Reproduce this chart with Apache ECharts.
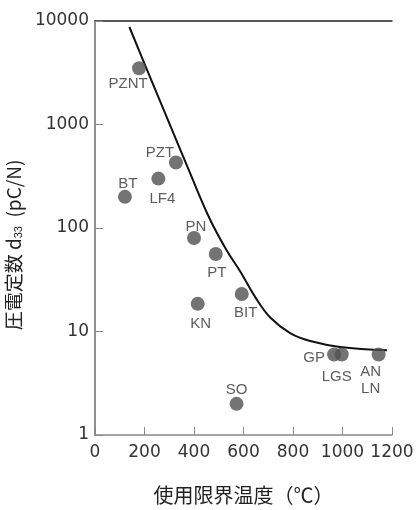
<!DOCTYPE html>
<html>
<head>
<meta charset="utf-8">
<script src="https://cdn.jsdelivr.net/npm/echarts@6/dist/echarts.min.js"></script>
<style>
  html, body { margin: 0; padding: 0; background: #fff; }
  #main { width: 417px; height: 510px; }
</style>
</head>
<body>
<div id="main"></div>
<script>
// materials: name, usable temperature limit (C), d33 (pC/N)
var materials = ['PZNT', 'PZT', 'LF4', 'BT', 'PN', 'PT', 'BIT', 'KN', 'SO', 'GP', 'LGS', 'AN\nLN'];
var tempLimit = [178, 327, 256, 121, 400, 488, 593, 415, 572, 966, 997, 1146];
var d33 = [3500, 430, 300, 200, 80, 56, 23, 18.5, 2, 6, 6, 6];

// trend curve
var curveTemp = [139, 220, 300, 380, 462, 530, 590, 650, 710, 790, 870, 990, 1180];
var curveD33 = [8750, 2960, 1030, 358, 125, 62, 37, 21, 13.5, 9.6, 8.1, 7.1, 6.6];

var xTicks = [0, 200, 400, 600, 800, 1000, 1200];
var yTicks = [1, 10, 100, 1000, 10000];

// where each label sits around its dot
var labelOffset = {
    'PZNT': [-11, 16], 'PZT': [-16, -10], 'LF4': [4, 20], 'BT': [3, -13],
    'PN': [2, -11], 'PT': [1, 19], 'BIT': [4, 19], 'KN': [3, 20],
    'SO': [0, -14], 'GP': [-20, 3], 'LGS': [-5, 22], 'AN\nLN': [-8, 26]
};

var myChart = echarts.init(document.getElementById('main'));

var numFont = 'Liberation Sans';
var points = materials.map(function(name, i) {
    return {
        name: name,
        value: [tempLimit[i], d33[i]],
        label: { offset: labelOffset[name] }
    };
});

var curve = curveTemp.map(function(t, i) { return [t, curveD33[i]]; });

var option = {
    animation: false,
    grid: { left: 95, right: 25, top: 21, bottom: 75, outerBoundsMode: 'none', containLabel: false },
    xAxis: [{
        type: 'value',
        min: 0, max: 1200, interval: 200,
        name: '使用限界温度（℃）',
        nameLocation: 'middle',
        nameGap: 50,
        nameTextStyle: { fontSize: 20, color: '#222', fontFamily: 'Noto Sans CJK JP' },
        axisLine: { show: true, lineStyle: { color: '#888', width: 1.5 } },
        axisTick: { show: true, inside: true, length: 8, lineStyle: { color: '#888' } },
        axisLabel: {
            fontSize: 17, color: '#333', fontFamily: 'DejaVu Sans', margin: 9,
            formatter: function(v) { return xTicks.indexOf(v) >= 0 ? String(v) : ''; }
        },
        splitLine: { show: false }
    }, {
        type: 'value',
        position: 'top',
        min: 0, max: 1200,
        axisLine: { show: true, lineStyle: { color: '#222', width: 1.5 } },
        axisTick: { show: false },
        axisLabel: { show: false },
        splitLine: { show: false }
    }],
    yAxis: [{
        type: 'log',
        logBase: 10,
        min: 1, max: 10000,
        name: '圧電定数 d{sub|33}  (pC/N)',
        nameLocation: 'middle',
        nameRotate: 90,
        nameGap: 68,
        nameTextStyle: {
            fontSize: 19, color: '#222', fontFamily: 'Noto Sans CJK JP',
            padding: [0, 34, 0, 0],
            rich: {
                sub: { fontSize: 11, color: '#222', fontFamily: numFont, verticalAlign: 'bottom', padding: [10, 0, 0, 0] }
            }
        },
        axisLine: { show: true, lineStyle: { color: '#888', width: 1.5 } },
        axisTick: { show: true, inside: true, length: 8, lineStyle: { color: '#888' } },
        axisLabel: {
            fontSize: 17, color: '#333', fontFamily: 'DejaVu Sans', margin: 6,
            formatter: function(v) { return yTicks.indexOf(Math.round(v)) >= 0 ? String(Math.round(v)) : ''; }
        },
        splitLine: { show: false }
    }, {
        type: 'log',
        logBase: 10,
        position: 'right',
        min: 1, max: 10000,
        axisLine: { show: true, lineStyle: { color: '#888', width: 1.5 } },
        axisTick: { show: false },
        axisLabel: { show: false },
        splitLine: { show: false }
    }],
    series: [{
        type: 'line',
        data: curve,
        smooth: 0.4,
        showSymbol: false,
        lineStyle: { color: '#111', width: 2 },
        z: 2
    }, {
        type: 'scatter',
        data: points,
        symbolSize: 14,
        itemStyle: { color: '#505050' },
        label: {
            show: true,
            position: 'inside',
            formatter: '{b}',
            fontSize: 15,
            lineHeight: 17,
            color: '#333',
            fontFamily: numFont
        },
        z: 3
    }]
};

myChart.setOption(option);
</script>
</body>
</html>
